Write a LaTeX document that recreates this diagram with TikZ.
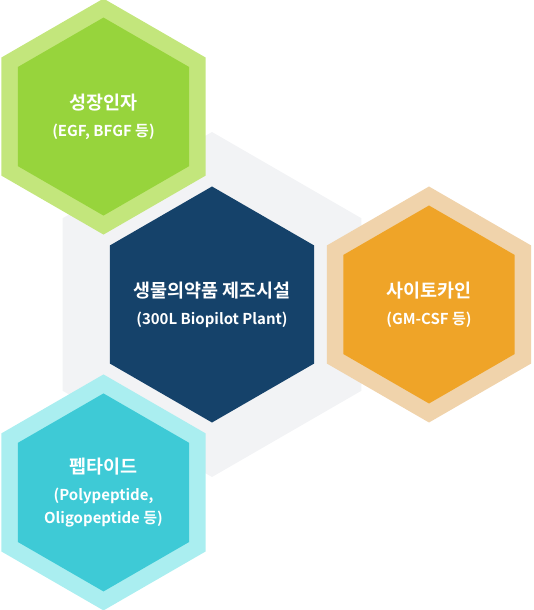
\documentclass[tikz,border=0pt]{standalone}
\usepackage{fontspec}
\newfontfamily\kofont{Noto Sans CJK KR}[BoldFont={Noto Sans CJK KR Bold}]
\usetikzlibrary{shapes.geometric}

\definecolor{bggray}{HTML}{F2F3F5}
\definecolor{navy}{HTML}{15426A}
\definecolor{greenring}{HTML}{C3E67C}
\definecolor{greencore}{HTML}{97D43C}
\definecolor{orangering}{HTML}{F0D3AB}
\definecolor{orangecore}{HTML}{EFA428}
\definecolor{cyanring}{HTML}{AAEEF0}
\definecolor{cyancore}{HTML}{3ECAD6}

\begin{document}
\begin{tikzpicture}[x=1pt,y=1pt,
	hex/.style={regular polygon,regular polygon sides=6,shape border rotate=30,inner sep=0pt,outer sep=0pt},
	ring node/.style={hex,minimum size=236pt},
	core node/.style={hex,minimum size=198pt},
	text node/.style={text=white,align=center,inner sep=0pt,
		font=\kofont\bfseries\fontsize{15}{27}\selectfont}
]

	\def \d {217};
	\def \tsize {\fontsize{18.5}{27}\selectfont};

	\useasboundingbox (-212,-305.5) rectangle (322,304.5);

	% centre
	\node[hex,minimum size=345pt,fill=bggray] (plant bg) at (0,0) {};
	\node[hex,minimum size=236pt,fill=navy] (plant) at (0,0) {};
	\node[text node] (plant text) at (plant.center)
		{{\tsize 생물의약품 제조시설}\\(300L Biopilot Plant)};

	% outer hexagons
	\node[ring node,fill=greenring] (growth ring) at (120:\d) {};
	\node[core node,fill=greencore] (growth) at (growth ring.center) {};
	\node[text node] (growth text) at (growth.center)
		{{\tsize 성장인자}\\(EGF, BFGF 등)};

	\node[ring node,fill=orangering] (cytokine ring) at (0:\d) {};
	\node[core node,fill=orangecore] (cytokine) at (cytokine ring.center) {};
	\node[text node] (cytokine text) at (cytokine.center)
		{{\tsize 사이토카인}\\(GM-CSF 등)};

	\node[ring node,fill=cyanring] (peptide ring) at (240:\d) {};
	\node[core node,fill=cyancore] (peptide) at (peptide ring.center) {};
	\node[text node] (peptide text) at (peptide.center)
		{{\tsize 펩타이드}\\(Polypeptide,\\[-4pt]Oligopeptide 등)};
\end{tikzpicture}
\end{document}
